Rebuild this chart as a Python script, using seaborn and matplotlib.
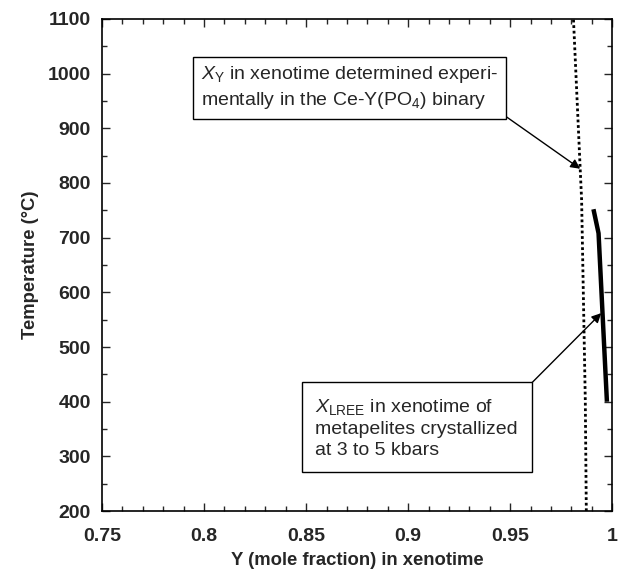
import matplotlib
matplotlib.use("Agg")
import matplotlib.pyplot as plt
import seaborn as sns
import pandas as pd
from matplotlib.ticker import MultipleLocator

# Values
# X_Y in xenotime, experimental Ce-Y(PO4) binary (dotted)
exp_temp = [200, 403, 769, 826, 1100]
exp_xy = [0.9873, 0.9868, 0.9850, 0.9843, 0.9810]

# X_LREE in xenotime of metapelites (solid)
meta_temp = [400, 708, 752]
meta_xy = [0.9974, 0.9933, 0.9908]

exp_df = pd.DataFrame({"Y": exp_xy, "T": exp_temp})
meta_df = pd.DataFrame({"Y": meta_xy, "T": meta_temp})

sns.set_style("ticks")
plt.rcParams["font.family"] = ["Liberation Sans", "DejaVu Sans"]
plt.rcParams["mathtext.fontset"] = "custom"
plt.rcParams["mathtext.rm"] = "Liberation Sans"
plt.rcParams["mathtext.it"] = "Liberation Sans:italic"

fig = plt.figure(figsize=(6.26, 5.73), dpi=100)
ax = fig.add_axes([0.163, 0.108, 0.815, 0.859])

sns.lineplot(data=exp_df, x="Y", y="T", ax=ax, sort=False, color="black",
             linewidth=2.0, linestyle=(0, (1, 1)))
sns.lineplot(data=meta_df, x="Y", y="T", ax=ax, sort=False, color="black",
             linewidth=3.2, solid_capstyle="butt")

ax.set_xlim(0.75, 1.0)
ax.set_ylim(200, 1100)
ax.xaxis.set_major_locator(MultipleLocator(0.05))
ax.xaxis.set_minor_locator(MultipleLocator(0.01))
ax.yaxis.set_major_locator(MultipleLocator(100))
ax.yaxis.set_minor_locator(MultipleLocator(50))
ax.set_xticks([0.75, 0.8, 0.85, 0.9, 0.95, 1.0])
ax.set_xticklabels(["0.75", "0.8", "0.85", "0.9", "0.95", "1"])
ax.tick_params(which="both", direction="in", top=True, right=True,
               width=1, labelsize=14)
ax.tick_params(axis="x", which="major", pad=12)
ax.tick_params(axis="y", which="major", pad=8)
ax.tick_params(which="major", length=6)
ax.tick_params(which="minor", length=3.5)
for lab in ax.get_xticklabels() + ax.get_yticklabels():
    lab.set_fontweight("bold")
for sp in ax.spines.values():
    sp.set_linewidth(1.2)
    sp.set_color("black")

ax.set_xlabel("Y (mole fraction) in xenotime", fontsize=13.3, fontweight="bold", labelpad=5)
ax.set_ylabel("Temperature (\u00b0C)", fontsize=13.3, fontweight="bold", labelpad=6)

box1 = dict(boxstyle="square,pad=0.4", facecolor="white", edgecolor="black", linewidth=1)
box2 = dict(boxstyle="square,pad=0.7", facecolor="white", edgecolor="black", linewidth=1)

ax.annotate("$X_{\\rm Y}$ in xenotime determined experi-\nmentally in the Ce-Y(PO$_4$) binary",
            xy=(0.9843, 826), xytext=(0.7985, 1017), ha="left", va="top",
            fontsize=14, bbox=box1, linespacing=1.32,
            arrowprops=dict(arrowstyle="-|>", color="black", lw=1,
                            mutation_scale=14, relpos=(1, 0), shrinkA=0, shrinkB=0))

ax.annotate("$X_{\\rm LREE}$ in xenotime of\nmetapelites crystallized\nat 3 to 5 kbars",
            xy=(0.9946, 562), xytext=(0.8545, 409), ha="left", va="top",
            fontsize=14, bbox=box2, linespacing=1.3,
            arrowprops=dict(arrowstyle="-|>", color="black", lw=1,
                            mutation_scale=14, relpos=(1, 1), shrinkA=0, shrinkB=0))

fig.savefig("out.png", dpi=100)
